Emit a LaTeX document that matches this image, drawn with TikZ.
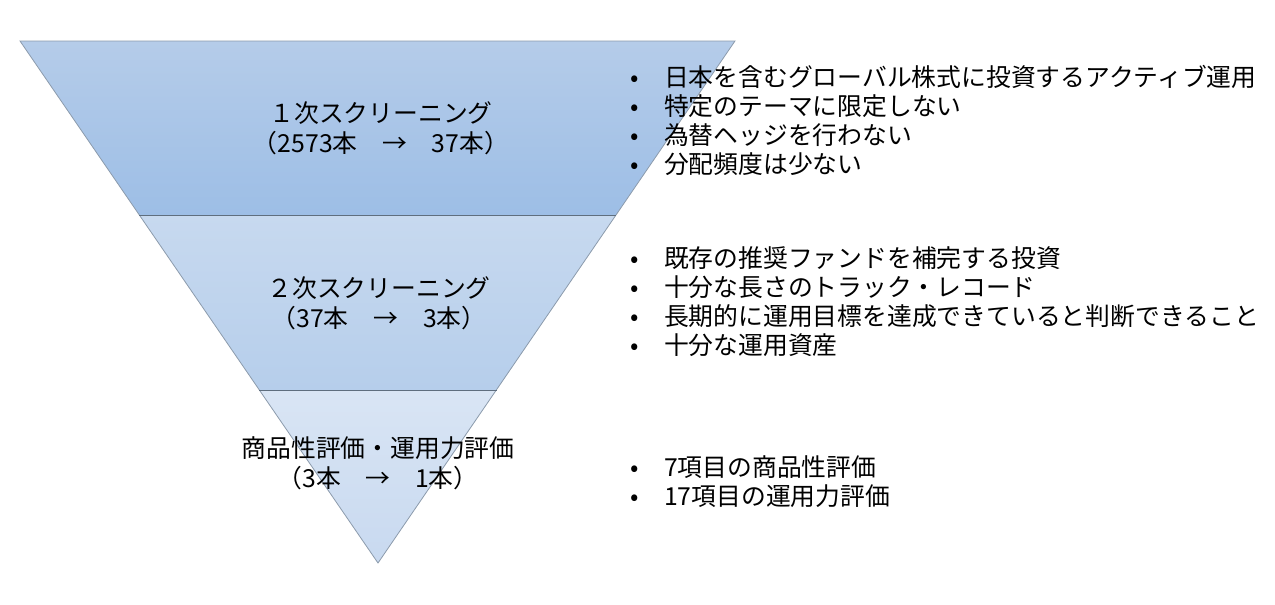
\documentclass[tikz,border=0pt]{standalone}
\usepackage{fontspec}
\setmainfont{Noto Sans CJK JP}
\usetikzlibrary{calc}
\definecolor{bandAtop}{HTML}{B5CCE9}
\definecolor{bandAbot}{HTML}{9DBEE6}
\definecolor{bandBtop}{HTML}{C7D9EF}
\definecolor{bandBbot}{HTML}{B6CEEB}
\definecolor{bandCtop}{HTML}{D9E5F4}
\definecolor{bandCbot}{HTML}{C8D9F0}
\definecolor{edgecol}{HTML}{8C9BAC}
\definecolor{divcol}{HTML}{5F6E7E}
\tikzset{
  lbl/.style={align=center, font=\fontsize{24.8}{30}\selectfont, inner sep=0pt},
  blist/.style={align=left, anchor=north west, font=\fontsize{24.8}{29}\selectfont, inner sep=0pt},
  edge/.style={draw=edgecol, line width=0.8pt},
  divider/.style={draw=divcol, line width=1pt}
}
\newcommand{\bul}{\makebox[34pt][l]{•}}
\begin{document}
\begin{tikzpicture}[x=1pt,y=-1pt]
\useasboundingbox (0,0) rectangle (1275,605);
\coordinate (tl) at (20,41);
\coordinate (tr) at (735,41);
\coordinate (ml) at (139.3,215);
\coordinate (mr) at (616,215);
\coordinate (ll) at (259.4,390);
\coordinate (lr) at (496.5,390);
\coordinate (apex) at (378,563);
\shade[top color=bandAtop, bottom color=bandAbot] (tl) -- (tr) -- (mr) -- (ml) -- cycle;
\shade[top color=bandBtop, bottom color=bandBbot] (ml) -- (mr) -- (lr) -- (ll) -- cycle;
\shade[top color=bandCtop, bottom color=bandCbot] (ll) -- (lr) -- (apex) -- cycle;
\draw[edge, line join=miter] (tl) -- (tr) -- (apex) -- cycle;
\draw[divider] (ml) -- (mr);
\draw[divider] (ll) -- (lr);
\node[lbl] (s1) at (381,128) {１次スクリーニング\\（2573本　→　37本）};
\node[lbl] (s2) at (379,303) {２次スクリーニング\\（37本　→　3本）};
\node[lbl] (s3) at (378,463) {商品性評価・運用力評価\\（3本　→　1本）};
\node[blist] (b1) at (630,65) {\bul 日本を含むグローバル株式に投資するアクティブ運用\\\bul 特定のテーマに限定しない\\\bul 為替ヘッジを行わない\\\bul 分配頻度は少ない};
\node[blist] (b2) at (630,246) {\bul 既存の推奨ファンドを補完する投資\\\bul 十分な長さのトラック・レコード\\\bul 長期的に運用目標を達成できていると判断できること\\\bul 十分な運用資産};
\node[blist] (b3) at (630,455) {\bul 7項目の商品性評価\\\bul 17項目の運用力評価};
\end{tikzpicture}
\end{document}
